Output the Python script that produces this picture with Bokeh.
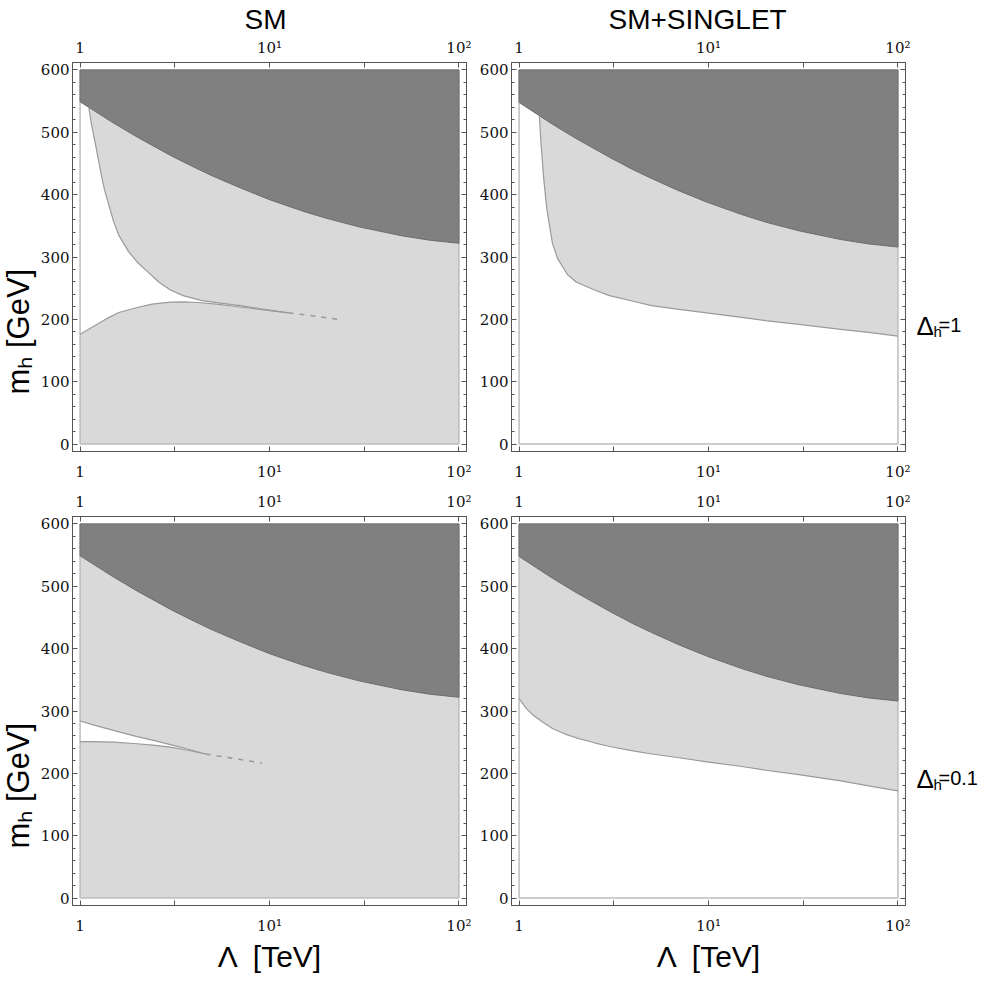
from bokeh.plotting import figure
from bokeh.models import (Range1d, LogAxis, LinearAxis, FixedTicker, SingleIntervalTicker,
                          CustomJSTickFormatter, Title)
from bokeh.core.properties import value
from bokeh.layouts import column, row
from bokeh.embed import file_html
from bokeh.resources import INLINE

# ---------------- data ----------------
lam_edge = [1, 100]          # Lambda range of the scanned region [TeV]
mh_edge = [0, 600]           # m_h range of the scanned region [GeV]

x_tick_major = [1, 10, 100]
x_tick_minor = [10 ** 0.5, 10 ** 1.5]

# upper (dark) boundary
lam_upper = [1, 1.5, 2, 3, 4, 5, 7, 10, 15, 20, 30, 50, 70, 100]
mh_upper_sm = [549, 515, 492.5, 463, 444, 430, 411, 392, 373.5, 362, 348, 334, 327, 322]
mh_upper_singlet = [548, 513, 490, 460, 440, 426, 406, 387, 368, 356, 342, 328, 321, 316]

# SM, Delta_h = 1 : allowed (white) wedge
sm1_inner_lam = [1.11, 1.15, 1.2, 1.25, 1.3, 1.35, 1.5, 1.6, 1.8, 2.0, 2.3, 2.6, 3.0, 3.5, 4.4, 5.5, 7.0, 9.0, 12.6]
sm1_inner_mh = [541, 512, 484, 456, 429, 406, 358, 335, 309, 292, 275, 260, 247, 238, 230, 226, 222, 217, 210.5]
sm1_lower_lam = [1, 1.2, 1.4, 1.6, 2.0, 2.4, 3.0, 3.5, 4.2, 5.4, 6.5, 8.1, 10, 12.6]
sm1_lower_mh = [176, 190, 202, 211, 219, 224.5, 227.5, 228, 227, 224, 221, 217.5, 214, 210.5]
sm1_tail_lam = [12.6, 17.5, 23.5]
sm1_tail_mh = [210.5, 205, 199.5]

# SM, Delta_h = 0.1
sm2_inner_lam = [1, 1.2, 1.5, 2, 2.5, 3, 3.7, 4.6]
sm2_inner_mh = [284, 277, 269, 259, 252, 246, 239, 231]
sm2_lower_lam = [1, 1.2, 1.5, 2, 2.5, 3, 3.7, 4.6]
sm2_lower_mh = [251, 251, 250, 247.5, 245, 242, 237, 231]
sm2_tail_lam = [4.6, 6.5, 9.1]
sm2_tail_mh = [231, 224, 216.5]

# SM+SINGLET, Delta_h = 1 : lower boundary of light region
sg1_lam = [1.28, 1.3, 1.35, 1.4, 1.5, 1.6, 1.8, 2, 2.5, 3, 4, 5, 7, 10, 15, 20, 30, 50, 70, 100]
sg1_mh = [527, 490, 425, 378, 322, 297, 272, 260, 247, 238, 229, 222, 216, 210, 203, 198, 192, 184, 179, 173]

# SM+SINGLET, Delta_h = 0.1
sg2_lam = [1, 1.1, 1.2, 1.35, 1.5, 1.75, 2, 2.5, 3, 4, 5, 7, 10, 15, 20, 30, 50, 70, 100]
sg2_mh = [320, 303, 292, 281, 272, 263, 257, 249, 243, 236, 231, 225, 218, 211, 205, 198, 188, 180, 172]

titles = ["SM", "SM+SINGLET"]
row_labels = ["=1", "=0.1"]
x_label = "\u039b\u2002[TeV]"
y_label = "m\u2095 [GeV]"

# ---------------- styling / layout ----------------
LIGHT = "#d9d9d9"
DARK = "#808080"
CURVE = "#9a9a9a"
FRAME = "#555555"
FW, FH = 394, 389
XLO, XHI = -0.04, 2.04      # log10 x range
YLO, YHI = -12, 612
SANS = "Liberation Sans"

fmt_code = """
const e = Math.round(Math.log10(tick));
if (e == 0) return "1";
return "10" + (e == 1 ? "\\u00b9" : "\\u00b2");
"""


def style_axis(ax):
    ax.axis_line_color = FRAME
    ax.major_tick_line_color = FRAME
    ax.minor_tick_line_color = FRAME
    ax.major_tick_in = 5
    ax.major_tick_out = 0
    ax.minor_tick_in = 3
    ax.minor_tick_out = 0
    ax.major_label_text_font = "DejaVu Serif"
    ax.major_label_text_font_size = "15px"
    ax.major_label_text_color = "#111111"


def make_fig(bl, br, bt, bb):
    p = figure(frame_width=FW, frame_height=FH, x_axis_type="log", title=None,
               x_range=Range1d(10 ** XLO, 10 ** XHI), y_range=Range1d(YLO, YHI),
               output_backend="svg", toolbar_location=None,
               min_border_left=bl, min_border_right=br, min_border_top=bt, min_border_bottom=bb)
    p.grid.visible = False
    p.outline_line_color = FRAME
    p.background_fill_color = "white"
    p.border_fill_color = "white"
    bottom_ax = p.below[0]
    left_ax = p.left[0]
    top_ax = LogAxis()
    right_ax = LinearAxis()
    p.add_layout(top_ax, "above")
    p.add_layout(right_ax, "right")
    for ax in (bottom_ax, top_ax):
        style_axis(ax)
        ax.ticker = FixedTicker(ticks=x_tick_major, minor_ticks=x_tick_minor)
        ax.formatter = CustomJSTickFormatter(code=fmt_code)
        ax.minor_tick_in = 5
    bottom_ax.major_label_standoff = 11
    top_ax.major_label_standoff = 6
    for ax in (left_ax, right_ax):
        style_axis(ax)
        ax.ticker = SingleIntervalTicker(interval=100, num_minor_ticks=5)
    left_ax.major_label_standoff = 3
    right_ax.formatter = CustomJSTickFormatter(code="return '';")
    right_ax.major_label_standoff = 0
    return p, bottom_ax


def add_title(p, text, offset):
    p.add_layout(Title(text=text, align="left", offset=offset, text_font=SANS,
                       text_font_size="28px", text_font_style="normal",
                       text_color="black", standoff=2), "above")


def add_ylabel(p):
    p.add_layout(Title(text=y_label, align="left", offset=57, text_font=SANS,
                       text_font_size="31px", text_font_style="normal",
                       vertical_align="top", text_color="black", standoff=0), "left")


def add_xlabel(ax):
    ax.axis_label = x_label
    ax.axis_label_text_font = SANS
    ax.axis_label_text_font_size = "30px"
    ax.axis_label_text_font_style = "normal"
    ax.axis_label_text_color = "black"
    ax.axis_label_standoff = 2


def base_regions(p, upper_mh, white_xs, white_ys):
    p.quad(left=[lam_edge[0]], right=[lam_edge[1]], bottom=[mh_edge[0]], top=[mh_edge[1]],
           fill_color=LIGHT, line_color=None)
    p.patch(white_xs, white_ys, fill_color="white", line_color=None)
    p.quad(left=[lam_edge[0]], right=[lam_edge[1]], bottom=[mh_edge[0]], top=[mh_edge[1]],
           fill_color=None, line_color="#bdbdbd", line_width=1.5)
    dx = [lam_upper[0]] + lam_upper + [lam_upper[-1]]
    dy = [mh_edge[1]] + upper_mh + [mh_edge[1]]
    p.patch(dx, dy, fill_color=DARK, line_color="#6c6c6c", line_width=1)


def text_fig(w, h):
    f = figure(width=w, height=h, x_range=Range1d(0, w), y_range=Range1d(0, h), title=None,
               output_backend="svg", toolbar_location=None, min_border=0,
               min_border_left=0, min_border_right=0, min_border_top=0, min_border_bottom=0,
               x_axis_location=None, y_axis_location=None)
    f.grid.visible = False
    f.outline_line_color = None
    f.background_fill_color = "white"
    f.border_fill_color = "white"
    return f


def put(f, left, top, h, text, px, py, size, angle=0.0, align="left"):
    # px, py: page position of the text anchor (baseline)
    f.text(x=[px - left], y=[h - (py - top)], text=[text], text_font=value(SANS),
           text_font_size=value(f"{size}px"), angle=angle, text_align=align,
           text_baseline="alphabetic", text_color="black")


# ---- panels
p1, _ = make_fig(72, 10, 60, 31)
wx = [lam_upper[0]] + sm1_inner_lam + sm1_lower_lam[::-1]
wy = [mh_upper_sm[0]] + sm1_inner_mh + sm1_lower_mh[::-1]
base_regions(p1, mh_upper_sm, wx, wy)
p1.line(sm1_inner_lam, sm1_inner_mh, line_color=CURVE, line_width=1.2)
p1.line(sm1_lower_lam, sm1_lower_mh, line_color=CURVE, line_width=1.2)
p1.line(sm1_tail_lam, sm1_tail_mh, line_color=CURVE, line_width=1.6, line_dash="5 6")
add_title(p1, titles[0], 172)
add_ylabel(p1)

p2, _ = make_fig(35, 6, 60, 31)
wx = [lam_edge[0], lam_edge[0]] + sg1_lam + [lam_edge[1]]
wy = [mh_edge[0], mh_upper_singlet[0]] + sg1_mh + [mh_edge[0]]
base_regions(p2, mh_upper_singlet, wx, wy)
p2.line(sg1_lam, sg1_mh, line_color=CURVE, line_width=1.2)
add_title(p2, titles[1], 97)

p3, b3 = make_fig(72, 10, 33, 65)
wx = sm2_inner_lam + sm2_lower_lam[::-1]
wy = sm2_inner_mh + sm2_lower_mh[::-1]
base_regions(p3, mh_upper_sm, wx, wy)
p3.line(sm2_inner_lam, sm2_inner_mh, line_color=CURVE, line_width=1.2)
p3.line(sm2_lower_lam, sm2_lower_mh, line_color=CURVE, line_width=1.2)
p3.line(sm2_tail_lam, sm2_tail_mh, line_color=CURVE, line_width=1.6, line_dash="5 6")
add_xlabel(b3)
add_ylabel(p3)

p4, b4 = make_fig(35, 6, 33, 65)
wx = sg2_lam + [lam_edge[1], lam_edge[0]]
wy = sg2_mh + [mh_edge[0], mh_edge[0]]
base_regions(p4, mh_upper_singlet, wx, wy)
p4.line(sg2_lam, sg2_mh, line_color=CURVE, line_width=1.2)
add_xlabel(b4)

# ---- right text column (page coordinates: left 919, top 8)
H_COL = 960
right_col = text_fig(70, H_COL)              # page x 919..989
for dy, lab in zip((0, 453), row_labels):
    put(right_col, 919, 8, H_COL, "\u0394", 924, 333 + dy, 26)
    put(right_col, 919, 8, H_COL, "h", 941, 339 + dy, 15)
    put(right_col, 919, 8, H_COL, lab, 946, 332 + dy, 20)

grid = column(row(p1, p2), row(p3, p4))
layout = row(grid, right_col)
open("out.html", "w").write(file_html(layout, INLINE))
